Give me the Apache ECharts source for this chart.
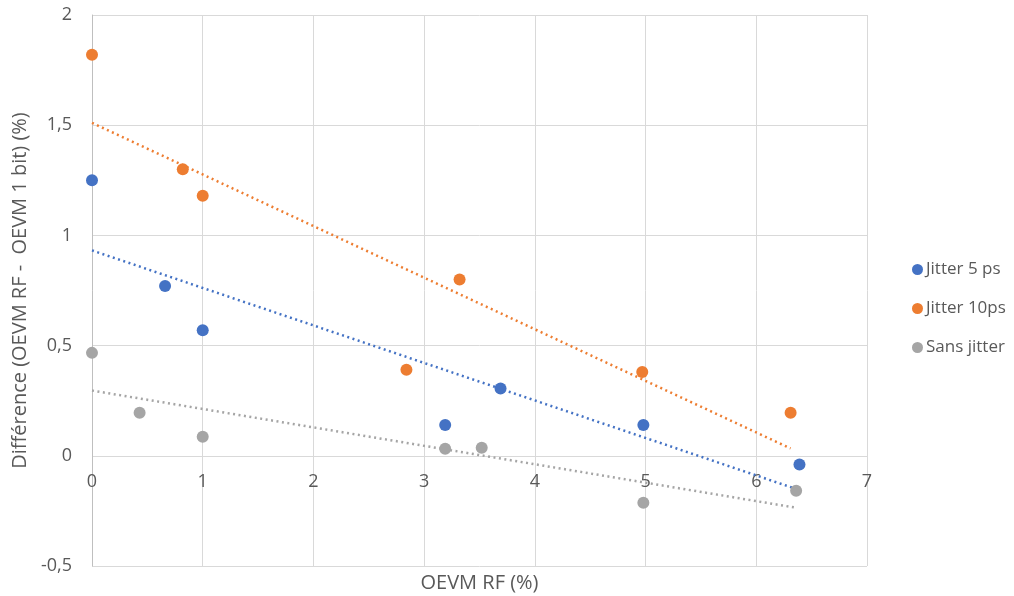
<!DOCTYPE html>
<html><head><meta charset="utf-8">
<script src="https://cdn.jsdelivr.net/npm/echarts@6/dist/echarts.min.js"></script>
<style>html,body{margin:0;padding:0;background:#fff}#c{width:1014px;height:596px}</style>
</head><body><div id="c"></div>
<script>
var seriesNames = ['Jitter 5 ps', 'Jitter 10ps', 'Sans jitter'];
var jitter5X = [0, 0.66, 1.0, 3.19, 3.69, 4.98, 6.39];
var jitter5Y = [1.25, 0.77, 0.57, 0.14, 0.305, 0.14, -0.04];
var jitter10X = [0, 0.82, 1.0, 2.84, 3.32, 4.97, 6.31];
var jitter10Y = [1.82, 1.30, 1.18, 0.39, 0.80, 0.38, 0.195];
var sansX = [0, 0.43, 1.0, 3.19, 3.52, 4.98, 6.36];
var sansY = [0.467, 0.195, 0.086, 0.032, 0.036, -0.213, -0.159];
var colors = ['#4472C4', '#ED7D31', '#A5A5A5'];

function pairs(xs, ys) { return xs.map(function (x, i) { return [x, ys[i]]; }); }
function trend(xs, ys) {
  var n = xs.length, mx = 0, my = 0;
  for (var i = 0; i < n; i++) { mx += xs[i]; my += ys[i]; }
  mx /= n; my /= n;
  var sxy = 0, sxx = 0;
  for (i = 0; i < n; i++) { sxy += (xs[i] - mx) * (ys[i] - my); sxx += (xs[i] - mx) * (xs[i] - mx); }
  var b = sxy / sxx, a = my - b * mx;
  var x0 = Math.min.apply(null, xs), x1 = Math.max.apply(null, xs);
  return [[x0, a + b * x0], [x1, a + b * x1]];
}
var sets = [[jitter5X, jitter5Y], [jitter10X, jitter10Y], [sansX, sansY]];
var series = [];
sets.forEach(function (s, k) {
  series.push({
    name: seriesNames[k] + ' trend', type: 'line', data: trend(s[0], s[1]),
    showSymbol: false, silent: true, z: 1,
    lineStyle: { color: colors[k], width: 2.5, type: [2, 3.5], cap: 'butt' }
  });
});
sets.forEach(function (s, k) {
  series.push({
    name: seriesNames[k], type: 'scatter', data: pairs(s[0], s[1]),
    symbolSize: 12, itemStyle: { color: colors[k], opacity: 1 }, z: 3
  });
});
var fmt = function (v) { return String(v).replace('.', ','); };
var font = 'Open Sans';
var chart = echarts.init(document.getElementById('c'));
chart.setOption({
  animation: false,
  color: colors,
  grid: { left: 92, right: 147, top: 15, bottom: 30, containLabel: false, outerBoundsMode: 'none' },
  legend: {
    data: seriesNames, orient: 'vertical', left: 907, top: 256, itemGap: 22,
    icon: 'circle', itemWidth: 11, itemHeight: 11,
    itemStyle: { opacity: 1 },
    textStyle: { color: '#595959', fontSize: 17, fontFamily: font, padding: [0, 0, 0, -2] }
  },
  xAxis: {
    type: 'value', min: 0, max: 7, interval: 1, offset: -110,
    name: 'OEVM RF (%)', nameLocation: 'middle', nameGap: 117,
    nameTextStyle: { color: '#595959', fontSize: 20, fontFamily: font },
    axisLine: { show: false },
    axisTick: { show: false },
    axisLabel: { color: '#595959', fontSize: 18, fontFamily: font, margin: 17, formatter: fmt },
    splitLine: { show: true, lineStyle: { color: '#d9d9d9' } }
  },
  yAxis: {
    type: 'value', min: -0.5, max: 2, interval: 0.5,
    name: 'Différence (OEVM RF -  OEVM 1 bit) (%)', nameLocation: 'middle', nameGap: 59,
    nameTextStyle: { color: '#595959', fontSize: 20, fontFamily: font },
    axisLine: { show: true, onZero: false, lineStyle: { color: '#bfbfbf', width: 1 } },
    axisTick: { show: false },
    axisLabel: { color: '#595959', fontSize: 18, fontFamily: font, margin: 20, formatter: fmt },
    splitLine: { show: true, lineStyle: { color: '#d9d9d9' } }
  },
  series: series
});
</script></body></html>
